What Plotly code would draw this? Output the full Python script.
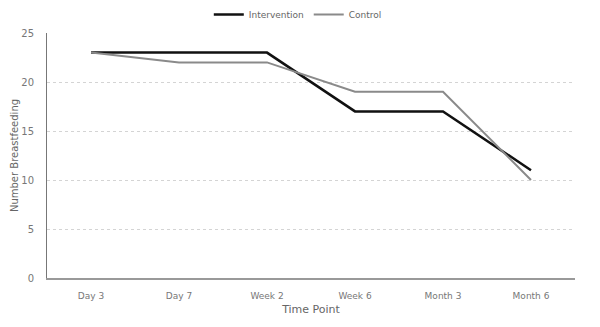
import plotly.graph_objects as go

time_points = ["Day 3", "Day 7", "Week 2", "Week 6", "Month 3", "Month 6"]
intervention = [23, 23, 23, 17, 17, 11]
control = [23, 22, 22, 19, 19, 10]
y_ticks = [0, 5, 10, 15, 20, 25]

font_family = "DejaVu Sans, Verdana, sans-serif"

fig = go.Figure()
fig.add_trace(go.Scatter(
    x=time_points, y=intervention, name="Intervention", mode="lines",
    line=dict(color="#111111", width=2.5),
))
fig.add_trace(go.Scatter(
    x=time_points, y=control, name="Control", mode="lines",
    line=dict(color="#8a8a8a", width=2),
))

fig.update_layout(
    width=600, height=327,
    margin=dict(l=47, r=25, t=33, b=49, autoexpand=False),
    paper_bgcolor="white", plot_bgcolor="white",
    font=dict(family=font_family, size=10, color="#777777"),
    showlegend=True,
    legend=dict(orientation="h", x=0.475, xanchor="center", y=1.0, yanchor="top",
                yref="container", font=dict(size=9, color="#666666"),
                itemwidth=30, tracegroupgap=0),
    xaxis=dict(
        type="category", range=[-0.5, 5.5], automargin=False,
        showline=True, linecolor="#999999", linewidth=2,
        showgrid=False, ticks="", ticklabelstandoff=8,
        tickfont=dict(size=9, color="#777777"),
        title=dict(text="Time Point", font=dict(size=11, color="#666666"), standoff=6),
    ),
    yaxis=dict(
        range=[0, 25], tickvals=y_ticks, automargin=False,
        showline=True, linecolor="#777777", linewidth=1,
        showgrid=True, gridcolor="#d4d4d4", griddash="dot", gridwidth=1,
        zeroline=False, ticks="", ticklabelstandoff=10,
        tickfont=dict(size=10, color="#777777"),
        title=dict(text="Number Breastfeeding", font=dict(size=10, color="#666666"), standoff=0),
    ),
)

fig.write_html("out.html")
